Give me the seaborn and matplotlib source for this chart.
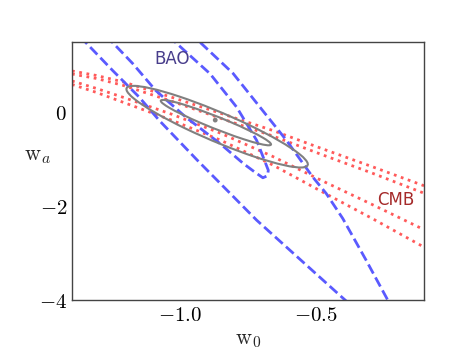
import numpy as np
import matplotlib
matplotlib.use("Agg")
import matplotlib.pyplot as plt
from matplotlib.patches import Ellipse
from matplotlib.ticker import FuncFormatter
import seaborn as sns

# DATA
# CMB contours, four dotted lines (outer upper, inner upper, inner lower, outer lower)
cmb_x = [-1.40, -1.31, -1.21, -1.03, -0.85, -0.66, -0.48, -0.29, -0.10]
cmb_outer_up = [0.883, 0.787, 0.649, 0.319, -0.021, -0.383, -0.766, -1.160, -1.564]
cmb_inner_up = [0.819, 0.723, 0.574, 0.234, -0.128, -0.500, -0.894, -1.298, -1.723]
cmb_inner_lo = [0.670, 0.511, 0.319, -0.043, -0.447, -0.936, -1.447, -1.968, -2.500]
cmb_outer_lo = [0.596, 0.426, 0.213, -0.170, -0.596, -1.117, -1.681, -2.266, -2.872]

# BAO contours, dashed
bao_outer_left_x = [-1.37, -1.349, -1.250, -1.152, -1.078, -0.937, -0.718, -0.405, -0.372]
bao_outer_left_y = [1.62, 1.489, 0.894, 0.326, -0.170, -1.021, -2.298, -3.93, -4.10]
bao_outer_right_x = [-0.963, -0.926, -0.805, -0.706, -0.608, -0.511, -0.461, -0.400, -0.314, -0.234, -0.225]
bao_outer_right_y = [1.72, 1.489, 0.830, 0.113, -0.596, -1.377, -1.730, -2.262, -3.149, -4.00, -4.10]
bao_inner_x = [-1.275, -1.250, -1.176, -1.091, -0.980, -0.926, -0.853, -0.767, -0.724, -0.695,
               -0.678, -0.675, -0.718, -0.792, -0.890, -1.012, -1.046]
bao_inner_y = [1.638, 1.489, 1.043, 0.468, -0.100, -0.340, -0.666, -1.091, -1.277, -1.394,
               -1.351, -1.234, -0.596, 0.113, 0.823, 1.462, 1.640]

# combined contours: left tip, right tip, vertical half width
comb_left = [(-1.072, 0.245), (-1.199, 0.496)]
comb_right = [(-0.665, -0.681), (-0.529, -1.106)]
comb_halfw = [0.14, 0.34]
fid_w0 = [-0.871]
fid_wa = [-0.164]

# STYLE
sns.set_style("white")
plt.rcParams["mathtext.fontset"] = "cm"
plt.rcParams["font.family"] = ["DejaVu Sans"]

fig = plt.figure(figsize=(4.72, 3.54), dpi=100)
ax = fig.add_axes([0.1525, 0.1525, 0.7458, 0.7288])

red = "#ff5a5a"
blue = "#5a5aff"

for ys in [cmb_outer_up, cmb_inner_up, cmb_inner_lo, cmb_outer_lo]:
    sns.lineplot(x=cmb_x, y=ys, sort=False, estimator=None, ax=ax,
                 color=red, lw=2, linestyle=":")

for xs, ys in [(bao_outer_left_x, bao_outer_left_y),
               (bao_outer_right_x, bao_outer_right_y),
               (bao_inner_x, bao_inner_y)]:
    sns.lineplot(x=xs, y=ys, sort=False, estimator=None, ax=ax,
                 color=blue, lw=2, linestyle="--")

# ellipses from tips + conjugate vertical half width
for L, R, h in zip(comb_left, comb_right, comb_halfw):
    L = np.array(L)
    R = np.array(R)
    c = (L + R) / 2
    u = (R - L) / 2
    v = np.array([0.0, h])
    cov = np.outer(u, u) + np.outer(v, v)
    vals, vecs = np.linalg.eigh(cov)
    ang = np.degrees(np.arctan2(vecs[1, 1], vecs[0, 1]))
    e = Ellipse(c, 2 * np.sqrt(vals[1]), 2 * np.sqrt(vals[0]), angle=ang,
                fill=False, edgecolor="gray", lw=1.5, zorder=5)
    ax.add_patch(e)

sns.scatterplot(x=fid_w0, y=fid_wa, ax=ax, color="gray", s=12,
                edgecolor="none", zorder=6)

ax.text(-1.029, 1.13, "BAO", color="darkslateblue", fontsize=12,
        ha="center", va="center")
ax.text(-0.203, -1.87, "CMB", color="brown", fontsize=12,
        ha="center", va="center")

ax.set_xlim(-1.4, -0.1)
ax.set_ylim(-4, 1.5)
ax.set_xticks([-1.0, -0.5])
ax.set_yticks([-4, -2, 0])
ax.xaxis.set_major_formatter(FuncFormatter(lambda v, p: "$%.1f$" % v))
ax.yaxis.set_major_formatter(FuncFormatter(lambda v, p: "$%d$" % round(v)))
ax.tick_params(direction="in", length=3, width=1, colors="black", labelsize=15)

ax.set_xlabel(r"$\mathrm{w}_0$", fontsize=16)
ax.set_ylabel(r"$\mathrm{w}_a$", fontsize=16, rotation=0, ha="center", va="center")
ax.yaxis.set_label_coords(-0.097, 0.56)

for s in ax.spines.values():
    s.set_color("#444444")
    s.set_linewidth(1)

fig.savefig("out.png", dpi=100)
